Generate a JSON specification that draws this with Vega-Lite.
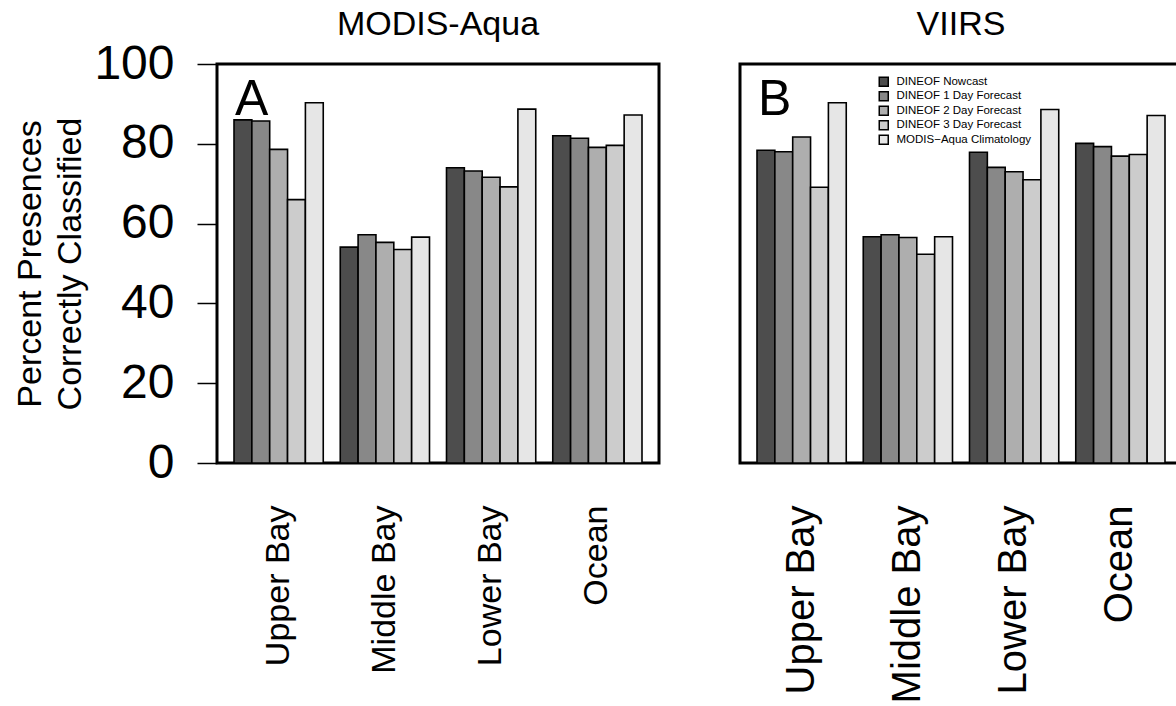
{
  "$schema": "https://vega.github.io/schema/vega-lite/v6.json",
  "background": "white",
  "padding": {"left": 12, "top": 6, "right": 0, "bottom": 0},
  "config": {
    "font": "Liberation Sans",
    "view": {"stroke": "black", "strokeWidth": 3},
    "axis": {"grid": false, "domain": false, "labelColor": "black", "titleColor": "black", "labelFont": "Liberation Sans", "titleFont": "Liberation Sans", "titleFontWeight": "normal", "labelLimit": 400},
    "title": {"font": "Liberation Sans", "fontWeight": "normal", "fontSize": 34, "color": "black", "baseline": "alphabetic"}
  },
  "datasets": {
    "modis": [
      {"region": "Upper Bay", "series": "DINEOF Nowcast", "value": 86.0},
      {"region": "Upper Bay", "series": "DINEOF 1 Day Forecast", "value": 85.7},
      {"region": "Upper Bay", "series": "DINEOF 2 Day Forecast", "value": 78.6},
      {"region": "Upper Bay", "series": "DINEOF 3 Day Forecast", "value": 66.0},
      {"region": "Upper Bay", "series": "MODIS−Aqua Climatology", "value": 90.3},
      {"region": "Middle Bay", "series": "DINEOF Nowcast", "value": 54.1},
      {"region": "Middle Bay", "series": "DINEOF 1 Day Forecast", "value": 57.2},
      {"region": "Middle Bay", "series": "DINEOF 2 Day Forecast", "value": 55.3},
      {"region": "Middle Bay", "series": "DINEOF 3 Day Forecast", "value": 53.5},
      {"region": "Middle Bay", "series": "MODIS−Aqua Climatology", "value": 56.6},
      {"region": "Lower Bay", "series": "DINEOF Nowcast", "value": 74.0},
      {"region": "Lower Bay", "series": "DINEOF 1 Day Forecast", "value": 73.2},
      {"region": "Lower Bay", "series": "DINEOF 2 Day Forecast", "value": 71.6},
      {"region": "Lower Bay", "series": "DINEOF 3 Day Forecast", "value": 69.2},
      {"region": "Lower Bay", "series": "MODIS−Aqua Climatology", "value": 88.7},
      {"region": "Ocean", "series": "DINEOF Nowcast", "value": 82.0},
      {"region": "Ocean", "series": "DINEOF 1 Day Forecast", "value": 81.4},
      {"region": "Ocean", "series": "DINEOF 2 Day Forecast", "value": 79.1},
      {"region": "Ocean", "series": "DINEOF 3 Day Forecast", "value": 79.6},
      {"region": "Ocean", "series": "MODIS−Aqua Climatology", "value": 87.2}
    ],
    "viirs": [
      {"region": "Upper Bay", "series": "DINEOF Nowcast", "value": 78.4},
      {"region": "Upper Bay", "series": "DINEOF 1 Day Forecast", "value": 78.0},
      {"region": "Upper Bay", "series": "DINEOF 2 Day Forecast", "value": 81.7},
      {"region": "Upper Bay", "series": "DINEOF 3 Day Forecast", "value": 69.1},
      {"region": "Upper Bay", "series": "MODIS−Aqua Climatology", "value": 90.3},
      {"region": "Middle Bay", "series": "DINEOF Nowcast", "value": 56.7},
      {"region": "Middle Bay", "series": "DINEOF 1 Day Forecast", "value": 57.2},
      {"region": "Middle Bay", "series": "DINEOF 2 Day Forecast", "value": 56.5},
      {"region": "Middle Bay", "series": "DINEOF 3 Day Forecast", "value": 52.3},
      {"region": "Middle Bay", "series": "MODIS−Aqua Climatology", "value": 56.7},
      {"region": "Lower Bay", "series": "DINEOF Nowcast", "value": 77.9},
      {"region": "Lower Bay", "series": "DINEOF 1 Day Forecast", "value": 74.1},
      {"region": "Lower Bay", "series": "DINEOF 2 Day Forecast", "value": 73.0},
      {"region": "Lower Bay", "series": "DINEOF 3 Day Forecast", "value": 71.0},
      {"region": "Lower Bay", "series": "MODIS−Aqua Climatology", "value": 88.6},
      {"region": "Ocean", "series": "DINEOF Nowcast", "value": 80.1},
      {"region": "Ocean", "series": "DINEOF 1 Day Forecast", "value": 79.3},
      {"region": "Ocean", "series": "DINEOF 2 Day Forecast", "value": 76.9},
      {"region": "Ocean", "series": "DINEOF 3 Day Forecast", "value": 77.3},
      {"region": "Ocean", "series": "MODIS−Aqua Climatology", "value": 87.1}
    ]
  },
  "spacing": 77,
  "resolve": {"scale": {"x": "independent", "y": "independent", "fill": "independent", "xOffset": "independent"}, "legend": {"fill": "independent"}},
  "hconcat": [
    {
      "width": 442,
      "height": 399,
      "title": {"text": "MODIS-Aqua", "offset": 0, "dy": 2},
      "layer": [
        {
          "data": {"name": "modis"},
          "mark": {"type": "bar", "stroke": "black", "strokeWidth": 1.6},
          "encoding": {
            "x": {"field": "region", "type": "nominal", "sort": ["Upper Bay", "Middle Bay", "Lower Bay", "Ocean"], "scale": {"paddingInner": 0.16, "paddingOuter": 0.16}, "axis": {"title": null, "labelAngle": -90, "labelFontSize": 34, "labelPadding": 42, "ticks": false}},
            "xOffset": {"field": "series", "type": "nominal", "sort": ["DINEOF Nowcast", "DINEOF 1 Day Forecast", "DINEOF 2 Day Forecast", "DINEOF 3 Day Forecast", "MODIS−Aqua Climatology"], "scale": {"paddingInner": 0, "paddingOuter": 0}},
            "y": {"field": "value", "type": "quantitative", "scale": {"domain": [0, 100], "nice": false}, "axis": {"values": [0, 20, 40, 60, 80, 100], "title": ["Percent Presences", "Correctly Classified"], "titleFontSize": 34, "titleLineHeight": 40, "titlePadding": 6, "labelFontSize": 48, "labelPadding": 23, "tickSize": 20, "tickWidth": 1.5, "tickColor": "black"}},
            "fill": {"field": "series", "type": "nominal", "scale": {"domain": ["DINEOF Nowcast", "DINEOF 1 Day Forecast", "DINEOF 2 Day Forecast", "DINEOF 3 Day Forecast", "MODIS−Aqua Climatology"], "range": ["#4d4d4d", "#888888", "#aeaeae", "#cccccc", "#e6e6e6"]}, "legend": null}
          }
        },
        {
          "data": {"values": [{"label": "A"}]},
          "mark": {"type": "text", "align": "left", "baseline": "alphabetic", "fontSize": 50, "dy": 51, "dx": 1, "color": "black"},
          "encoding": {
            "x": {"datum": "Upper Bay", "type": "nominal", "bandPosition": 0},
            "y": {"datum": 100, "type": "quantitative"},
            "text": {"field": "label"}
          }
        }
      ]
    },
    {
      "width": 442,
      "height": 399,
      "title": {"text": "VIIRS", "offset": 22},
      "layer": [
        {
          "data": {"name": "viirs"},
          "mark": {"type": "bar", "stroke": "black", "strokeWidth": 1.6},
          "encoding": {
            "x": {"field": "region", "type": "nominal", "sort": ["Upper Bay", "Middle Bay", "Lower Bay", "Ocean"], "scale": {"paddingInner": 0.16, "paddingOuter": 0.16}, "axis": {"title": null, "labelAngle": -90, "labelFontSize": 40, "labelPadding": 42, "ticks": false}},
            "xOffset": {"field": "series", "type": "nominal", "sort": ["DINEOF Nowcast", "DINEOF 1 Day Forecast", "DINEOF 2 Day Forecast", "DINEOF 3 Day Forecast", "MODIS−Aqua Climatology"], "scale": {"paddingInner": 0, "paddingOuter": 0}},
            "y": {"field": "value", "type": "quantitative", "scale": {"domain": [0, 100], "nice": false}, "axis": null},
            "fill": {"field": "series", "type": "nominal", "sort": ["DINEOF Nowcast", "DINEOF 1 Day Forecast", "DINEOF 2 Day Forecast", "DINEOF 3 Day Forecast", "MODIS−Aqua Climatology"], "scale": {"domain": ["DINEOF Nowcast", "DINEOF 1 Day Forecast", "DINEOF 2 Day Forecast", "DINEOF 3 Day Forecast", "MODIS−Aqua Climatology"], "range": ["#4d4d4d", "#888888", "#aeaeae", "#cccccc", "#e6e6e6"]}, "legend": {"orient": "none", "legendX": 138, "legendY": 12, "title": null, "symbolType": "square", "symbolSize": 81, "symbolStrokeColor": "black", "symbolStrokeWidth": 1.5, "labelFontSize": 11.5, "labelOffset": 7, "rowPadding": -1.5, "padding": 0, "labelColor": "black", "labelFont": "Liberation Sans"}}
          }
        },
        {
          "data": {"values": [{"label": "B"}]},
          "mark": {"type": "text", "align": "left", "baseline": "alphabetic", "fontSize": 50, "dy": 51, "dx": 1, "color": "black"},
          "encoding": {
            "x": {"datum": "Upper Bay", "type": "nominal", "bandPosition": 0},
            "y": {"datum": 100, "type": "quantitative"},
            "text": {"field": "label"}
          }
        }
      ]
    }
  ]
}
